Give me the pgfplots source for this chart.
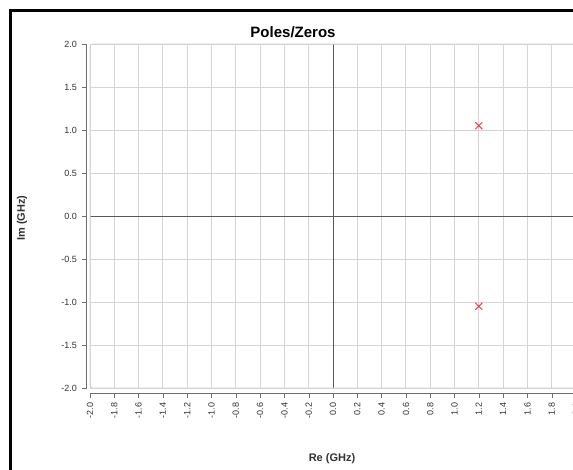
\documentclass[border=0pt]{standalone}
\usepackage{pgfplots}
\pgfplotsset{compat=1.18}
\usepackage{fontspec}
\setmainfont{Liberation Sans}
\definecolor{polered}{RGB}{240,60,80}
\definecolor{gridgray}{RGB}{212,212,212}
\definecolor{axgray}{RGB}{110,110,110}
\definecolor{labgray}{RGB}{50,50,50}
\begin{document}
\begin{tikzpicture}
\clip (0,0) rectangle (429.75pt,351.75pt);
\fill[white] (0,0) rectangle (429.75pt,351.75pt);
\begin{axis}[
  at={(67.5pt,60.75pt)}, anchor=south west,
  scale only axis, width=364.5pt, height=258pt,
  xmin=-2, xmax=2, ymin=-2, ymax=2,
  axis x line*=bottom, axis y line*=left,
  x axis line style={-, draw=axgray, yshift=-3.75pt},
  y axis line style={-, draw=axgray, xshift=-2.6pt},
  xtick={-2,-1.8,-1.6,-1.4,-1.2,-1,-0.8,-0.6,-0.4,-0.2,0,0.2,0.4,0.6,0.8,1,1.2,1.4,1.6,1.8,2},
  ytick={-2,-1.5,-1,-0.5,0,0.5,1,1.5,2},
  tick align=outside, major tick length=3.75pt,
  xtick style={draw=axgray, yshift=-3.75pt},
  ytick style={draw=axgray, xshift=-2.6pt},
  grid=major, major grid style={draw=gridgray, line width=0.75pt},
  /pgf/number format/assume math mode=true,
  /pgf/number format/.cd, fixed, fixed zerofill, precision=1, /pgfplots/.cd,
  ticklabel style={font=\fontsize{6.75pt}{7pt}\selectfont, text=labgray},
  xticklabel style={yshift=-3.75pt, rotate=90, anchor=east},
  yticklabel style={xshift=-2.6pt},
  extra x ticks={0}, extra x tick labels={},
  extra x tick style={major grid style={draw=black!65, line width=0.75pt}, xtick style={draw=none}},
  extra y ticks={0}, extra y tick labels={},
  extra y tick style={major grid style={draw=black!65, line width=0.75pt}, ytick style={draw=none}},
  clip=false,
]
\draw[gridgray, line width=0.75pt, rounded corners=2pt] (rel axis cs:0,0) rectangle (rel axis cs:1,1);
\addplot[only marks, mark=x, mark size=3.75pt, mark options={draw=polered, line width=0.75pt}]
  coordinates {(1.2,1.05) (1.2,-1.05)};
\end{axis}
\draw[line width=2.25pt, line cap=rect] (7.875pt,-5pt) -- (7.875pt,343.875pt) -- (440pt,343.875pt);
\node[font=\fontsize{11.25pt}{13pt}\selectfont\bfseries] at (219.75pt,327.4pt) {Poles/Zeros};
\node[font=\fontsize{8.25pt}{10pt}\selectfont\bfseries, text=labgray] at (249pt,7.5pt) {Re (GHz)};
\node[font=\fontsize{8.25pt}{10pt}\selectfont\bfseries, text=labgray, rotate=90] at (16.5pt,188.25pt) {Im (GHz)};
\end{tikzpicture}
\end{document}
